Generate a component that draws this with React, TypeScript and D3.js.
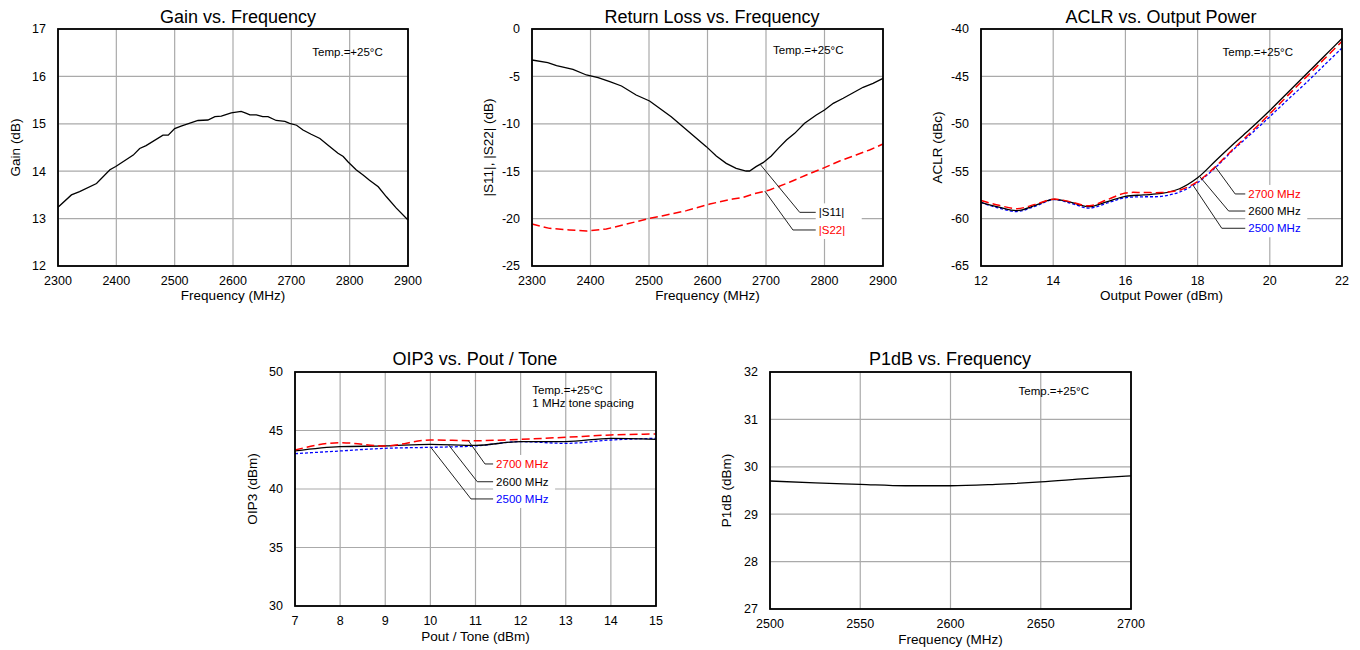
import React from "react";
import * as d3 from "d3";

const FONT = "'Liberation Sans', Arial, Helvetica, sans-serif";

// ---------- Gain vs. Frequency ----------
const gainFreq = [2300, 2323, 2337, 2366, 2389, 2399, 2429, 2440, 2451, 2480, 2489, 2500, 2511, 2540, 2557, 2569, 2580, 2597, 2614, 2623, 2629, 2640, 2651, 2660, 2674, 2689, 2697, 2709, 2720, 2734, 2749, 2763, 2780, 2789, 2797, 2811, 2823, 2834, 2849, 2863, 2880, 2900];
const gainDb = [13.24, 13.5, 13.57, 13.74, 14.03, 14.1, 14.34, 14.48, 14.54, 14.76, 14.76, 14.9, 14.95, 15.07, 15.08, 15.15, 15.16, 15.23, 15.26, 15.22, 15.19, 15.19, 15.15, 15.15, 15.07, 15.05, 15.01, 14.97, 14.87, 14.78, 14.69, 14.55, 14.38, 14.31, 14.2, 14.03, 13.92, 13.81, 13.67, 13.46, 13.22, 12.97];
const gainXTicks = [2300, 2400, 2500, 2600, 2700, 2800, 2900];
const gainYTicks = [12, 13, 14, 15, 16, 17];

// ---------- Return Loss vs. Frequency ----------
const s11Freq = [2300, 2327, 2342, 2370, 2393, 2413, 2433, 2453, 2478, 2501, 2518, 2538, 2558, 2578, 2598, 2615, 2632, 2649, 2666, 2672, 2683, 2695, 2709, 2721, 2735, 2749, 2766, 2786, 2800, 2815, 2832, 2849, 2866, 2883, 2900];
const s11Db = [-3.27, -3.55, -3.87, -4.25, -4.85, -5.13, -5.56, -6.01, -6.96, -7.59, -8.37, -9.25, -10.3, -11.36, -12.41, -13.4, -14.17, -14.7, -14.98, -14.98, -14.52, -14.1, -13.4, -12.59, -11.71, -11.01, -9.95, -9.07, -8.54, -7.84, -7.31, -6.72, -6.15, -5.73, -5.2];
const s22Freq = [2300, 2330, 2364, 2393, 2427, 2456, 2501, 2524, 2564, 2604, 2643, 2661, 2678, 2706, 2740, 2769, 2797, 2826, 2854, 2877, 2900];
const s22Db = [-20.57, -21.03, -21.2, -21.31, -21.1, -20.67, -19.97, -19.69, -19.16, -18.46, -17.93, -17.76, -17.41, -16.98, -16.17, -15.4, -14.7, -13.92, -13.29, -12.76, -12.13];
const rlXTicks = [2300, 2400, 2500, 2600, 2700, 2800, 2900];
const rlYTicks = [-25, -20, -15, -10, -5, 0];

// ---------- ACLR vs. Output Power ----------
const aclrPout = [12, 12.5, 13, 13.5, 14, 14.5, 15, 15.5, 16, 16.5, 17, 17.5, 18, 18.5, 19, 19.5, 20, 20.5, 21, 21.5, 22];
const aclr2700 = [-58.1, -58.6, -58.95, -58.5, -57.95, -58.25, -58.65, -58.0, -57.3, -57.25, -57.25, -57.0, -56.1, -54.5, -52.6, -50.8, -48.95, -47.0, -45.1, -43.2, -41.3];
const aclr2600 = [-58.28, -58.8, -59.16, -58.6, -57.97, -58.3, -58.74, -58.2, -57.65, -57.5, -57.35, -56.85, -55.7, -53.9, -52.1, -50.4, -48.6, -46.7, -44.8, -42.9, -41.0];
const aclr2500 = [-58.3, -58.9, -59.25, -58.7, -58.0, -58.4, -58.9, -58.35, -57.8, -57.7, -57.65, -57.2, -56.2, -54.6, -52.7, -51.0, -49.25, -47.45, -45.7, -43.85, -42.0];
const aclrXTicks = [12, 14, 16, 18, 20, 22];
const aclrYTicks = [-65, -60, -55, -50, -45, -40];

// ---------- OIP3 vs. Pout / Tone ----------
const oip3Pout = [7, 8, 9, 10, 11, 12, 13, 14, 15];
const oip3_2700 = [43.33, 43.96, 43.68, 44.19, 44.13, 44.25, 44.42, 44.62, 44.7];
const oip3_2600 = [43.25, 43.62, 43.68, 43.82, 43.73, 44.05, 44.05, 44.33, 44.25];
const oip3_2500 = [43.02, 43.25, 43.48, 43.56, 43.68, 44.05, 43.9, 44.19, 44.33];
const oip3XTicks = [7, 8, 9, 10, 11, 12, 13, 14, 15];
const oip3YTicks = [30, 35, 40, 45, 50];

// ---------- P1dB vs. Frequency ----------
const p1dbFreq = [2500, 2525, 2550, 2575, 2600, 2625, 2650, 2675, 2700];
const p1dbVal = [29.7, 29.66, 29.63, 29.6, 29.6, 29.63, 29.68, 29.75, 29.81];
const p1dbXTicks = [2500, 2550, 2600, 2650, 2700];
const p1dbYTicks = [27, 28, 29, 30, 31, 32];

const RED = "#ff0000";
const BLUE = "#0000ff";
const BLACK = "#000000";

type Series = { x: number[]; y: number[]; color: string; dash?: string; width: number };
type Note = { series: number; ax: number; ex: number; ey: number; endX: number; text: string; color: string };
type Panel = {
  title: string; titleX: number; titleY: number;
  left: number; top: number; width: number; height: number;
  xDomain: [number, number]; yDomain: [number, number];
  xTicks: number[]; yTicks: number[];
  xLabel: string; yLabel: string; yLabelX: number; xLabelDy: number; xTickDy: number;
  series: Series[];
  curve: d3.CurveFactory;
  temp: { x: number; y: number; lines: string[] };
  notes: Note[];
  boxW: number;
};

const panels: Panel[] = [
  {
    title: "Gain vs. Frequency", titleX: 238, titleY: 23,
    left: 58, top: 29, width: 350, height: 237,
    xDomain: [2300, 2900], yDomain: [12, 17], xTicks: gainXTicks, yTicks: gainYTicks,
    xLabel: "Frequency (MHz)", yLabel: "Gain (dB)", yLabelX: 15, xLabelDy: 34, xTickDy: 19,
    series: [{ x: gainFreq, y: gainDb, color: BLACK, width: 1.3 }],
    curve: d3.curveLinear,
    temp: { x: 2736, y: 16.44, lines: ["Temp.=+25°C"] },
    notes: [], boxW: 0,
  },
  {
    title: "Return Loss vs. Frequency", titleX: 712, titleY: 23,
    left: 532, top: 29, width: 351, height: 237,
    xDomain: [2300, 2900], yDomain: [-25, 0], xTicks: rlXTicks, yTicks: rlYTicks,
    xLabel: "Frequency (MHz)", yLabel: "|S11|, |S22| (dB)", yLabelX: 488, xLabelDy: 34, xTickDy: 19,
    series: [
      { x: s11Freq, y: s11Db, color: BLACK, width: 1.3 },
      { x: s22Freq, y: s22Db, color: RED, dash: "8,4", width: 1.5 },
    ],
    curve: d3.curveLinear,
    temp: { x: 2712, y: -2.64, lines: ["Temp.=+25°C"] },
    notes: [
      { series: 0, ax: 2690, ex: 2757.6, ey: -19.34, endX: 2785, text: "|S11|", color: BLACK },
      { series: 1, ax: 2698, ex: 2746, ey: -21.2, endX: 2785, text: "|S22|", color: RED },
    ],
    boxW: 46,
  },
  {
    title: "ACLR vs. Output Power", titleX: 1161, titleY: 23,
    left: 981, top: 29, width: 361, height: 237,
    xDomain: [12, 22], yDomain: [-65, -40], xTicks: aclrXTicks, yTicks: aclrYTicks,
    xLabel: "Output Power (dBm)", yLabel: "ACLR (dBc)", yLabelX: 937, xLabelDy: 34, xTickDy: 19,
    series: [
      { x: aclrPout, y: aclr2500, color: BLUE, dash: "3,2", width: 1.3 },
      { x: aclrPout, y: aclr2600, color: BLACK, width: 1.3 },
      { x: aclrPout, y: aclr2700, color: RED, dash: "8,4", width: 1.5 },
    ],
    curve: d3.curveCatmullRom,
    temp: { x: 18.69, y: -42.82, lines: ["Temp.=+25°C"] },
    notes: [
      { series: 2, ax: 18.49, ex: 19.04, ey: -57.4, endX: 19.32, text: "2700 MHz", color: RED },
      { series: 1, ax: 18.05, ex: 18.86, ey: -59.2, endX: 19.32, text: "2600 MHz", color: BLACK },
      { series: 0, ax: 17.87, ex: 18.67, ey: -61.02, endX: 19.32, text: "2500 MHz", color: BLUE },
    ],
    boxW: 62,
  },
  {
    title: "OIP3 vs. Pout / Tone", titleX: 475, titleY: 365,
    left: 295, top: 372, width: 361, height: 234,
    xDomain: [7, 15], yDomain: [30, 50], xTicks: oip3XTicks, yTicks: oip3YTicks,
    xLabel: "Pout / Tone (dBm)", yLabel: "OIP3 (dBm)", yLabelX: 252, xLabelDy: 35, xTickDy: 19,
    series: [
      { x: oip3Pout, y: oip3_2500, color: BLUE, dash: "3,2", width: 1.3 },
      { x: oip3Pout, y: oip3_2600, color: BLACK, width: 1.3 },
      { x: oip3Pout, y: oip3_2700, color: RED, dash: "8,4", width: 1.5 },
    ],
    curve: d3.curveMonotoneX,
    temp: { x: 12.26, y: 48.12, lines: ["Temp.=+25°C", "1 MHz tone spacing"] },
    notes: [
      { series: 2, ax: 10.84, ex: 11.21, ey: 42.14, endX: 11.39, text: "2700 MHz", color: RED },
      { series: 1, ax: 10.4, ex: 11.04, ey: 40.62, endX: 11.39, text: "2600 MHz", color: BLACK },
      { series: 0, ax: 10.01, ex: 10.9, ey: 39.15, endX: 11.39, text: "2500 MHz", color: BLUE },
    ],
    boxW: 62,
  },
  {
    title: "P1dB vs. Frequency", titleX: 950, titleY: 365,
    left: 770, top: 372, width: 361, height: 237,
    xDomain: [2500, 2700], yDomain: [27, 32], xTicks: p1dbXTicks, yTicks: p1dbYTicks,
    xLabel: "Frequency (MHz)", yLabel: "P1dB (dBm)", yLabelX: 726, xLabelDy: 35, xTickDy: 19,
    series: [{ x: p1dbFreq, y: p1dbVal, color: BLACK, width: 1.3 }],
    curve: d3.curveMonotoneX,
    temp: { x: 2637.7, y: 31.51, lines: ["Temp.=+25°C"] },
    notes: [], boxW: 0,
  },
];

function interp(xs: number[], ys: number[], x: number): number {
  for (let i = 0; i < xs.length - 1; i++) {
    if (x >= xs[i] && x <= xs[i + 1]) {
      const t = (x - xs[i]) / (xs[i + 1] - xs[i]);
      return ys[i] + t * (ys[i + 1] - ys[i]);
    }
  }
  return ys[ys.length - 1];
}

function PanelView({ p }: { p: Panel }) {
  const x = d3.scaleLinear().domain(p.xDomain).range([p.left, p.left + p.width]);
  const y = d3.scaleLinear().domain(p.yDomain).range([p.top + p.height, p.top]);
  const line = d3
    .line<[number, number]>()
    .x((d) => x(d[0]))
    .y((d) => y(d[1]))
    .curve(p.curve);
  const bottom = p.top + p.height;
  const right = p.left + p.width;
  const noteYs = p.notes.map((n) => y(n.ey));
  const boxX = p.notes.length ? x(p.notes[0].endX) : 0;

  return (
    <g>
      {p.xTicks.map((t) => (
        <line key={"gx" + t} x1={x(t)} x2={x(t)} y1={p.top} y2={bottom} stroke="#aaaaaa" strokeWidth={1.2} />
      ))}
      {p.yTicks.map((t) => (
        <line key={"gy" + t} x1={p.left} x2={right} y1={y(t)} y2={y(t)} stroke="#aaaaaa" strokeWidth={1.2} />
      ))}
      {p.notes.length > 0 && (
        <rect
          x={boxX}
          y={Math.min(...noteYs) - 9}
          width={p.boxW}
          height={Math.max(...noteYs) - Math.min(...noteYs) + 18}
          fill="#ffffff"
        />
      )}
      {p.temp.lines.map((s, i) => (
        <text key={"t" + i} x={x(p.temp.x)} y={y(p.temp.y) + i * 12.7} fontSize={11.5} fontFamily={FONT} fill="#000">
          {s}
        </text>
      ))}
      {p.series.map((s, i) => (
        <path
          key={"s" + i}
          d={line(s.x.map((v, j) => [v, s.y[j]] as [number, number])) || ""}
          fill="none"
          stroke={s.color}
          strokeWidth={s.width}
          strokeDasharray={s.dash}
        />
      ))}
      {p.notes.map((n, i) => {
        const s = p.series[n.series];
        const ay = interp(s.x, s.y, n.ax);
        return (
          <g key={"n" + i}>
            <polyline
              points={`${x(n.ax)},${y(ay)} ${x(n.ex)},${y(n.ey)} ${x(n.endX)},${y(n.ey)}`}
              fill="none"
              stroke="#222"
              strokeWidth={1}
            />
            <text x={x(n.endX) + 3} y={y(n.ey)} dy="0.35em" fontSize={11.5} fontFamily={FONT} fill={n.color}>
              {n.text}
            </text>
          </g>
        );
      })}
      <rect x={p.left} y={p.top} width={p.width} height={p.height} fill="none" stroke="#000" strokeWidth={1.8} />
      {p.xTicks.map((t) => (
        <text key={"xl" + t} x={x(t)} y={bottom + p.xTickDy} textAnchor="middle" fontSize={12.5} fontFamily={FONT} fill="#000">
          {t}
        </text>
      ))}
      {p.yTicks.map((t) => (
        <text key={"yl" + t} x={p.left - 12} y={y(t)} dy="0.35em" textAnchor="end" fontSize={12.5} fontFamily={FONT} fill="#000">
          {t}
        </text>
      ))}
      <text x={(p.left + right) / 2} y={bottom + p.xLabelDy} textAnchor="middle" fontSize={13.5} fontFamily={FONT} fill="#000">
        {p.xLabel}
      </text>
      <text
        transform={`translate(${p.yLabelX + 5},${(p.top + bottom) / 2}) rotate(-90)`}
        textAnchor="middle"
        fontSize={13.5}
        fontFamily={FONT}
        fill="#000"
      >
        {p.yLabel}
      </text>
      <text x={p.titleX} y={p.titleY} textAnchor="middle" fontSize={18} fontFamily={FONT} fill="#000">
        {p.title}
      </text>
    </g>
  );
}

export default function App() {
  return (
    <svg
      width={1360}
      height={650}
      style={{ position: "absolute", left: 0, top: 0, background: "#fff" }}
      xmlns="http://www.w3.org/2000/svg"
    >
      <rect x={0} y={0} width={1360} height={650} fill="#fff" />
      {panels.map((p, i) => (
        <PanelView key={i} p={p} />
      ))}
    </svg>
  );
}
